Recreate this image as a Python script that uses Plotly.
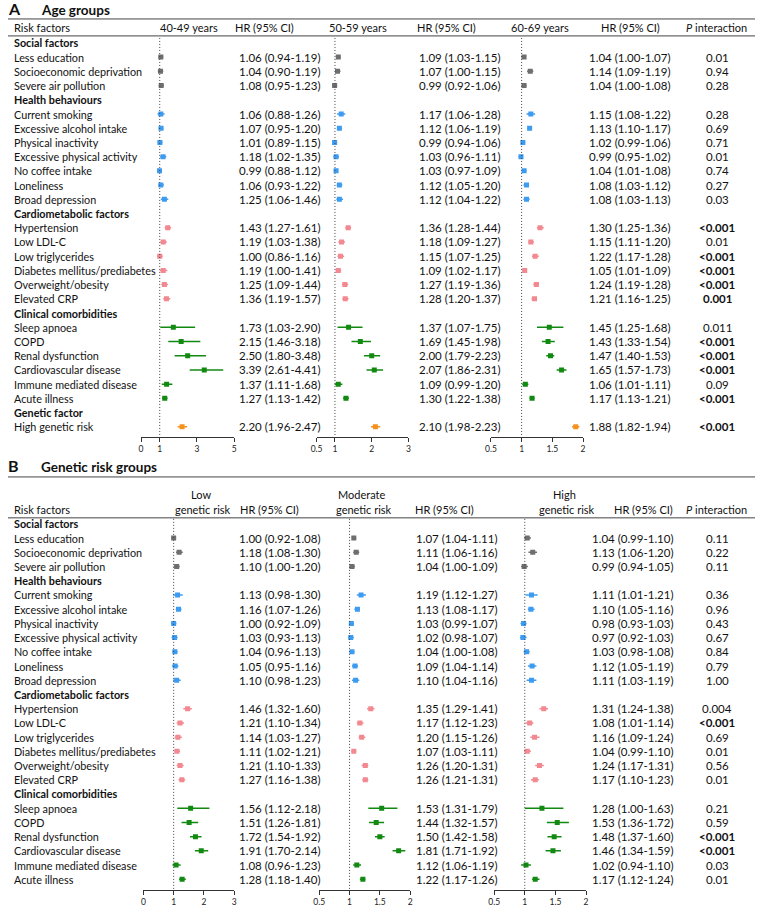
import plotly.graph_objects as go

OFF = 0
W, H = 760, 907
FONT = "Lato"

def px(x):
    return (x - OFF) / W

def py(y):
    return 1 - (y - OFF) / H

# ---------------- DATA ----------------
labels_A = ["Social factors", "Less education", "Socioeconomic deprivation", "Severe air pollution",
            "Health behaviours", "Current smoking", "Excessive alcohol intake", "Physical inactivity",
            "Excessive physical activity", "No coffee intake", "Loneliness", "Broad depression",
            "Cardiometabolic factors", "Hypertension", "Low LDL-C", "Low triglycerides",
            "Diabetes mellitus/prediabetes", "Overweight/obesity", "Elevated CRP",
            "Clinical comorbidities", "Sleep apnoea", "COPD", "Renal dysfunction",
            "Cardiovascular disease", "Immune mediated disease", "Acute illness",
            "Genetic factor", "High genetic risk"]
groups_A = ["H", "social", "social", "social",
            "H", "health", "health", "health", "health", "health", "health", "health",
            "H", "cardio", "cardio", "cardio", "cardio", "cardio", "cardio",
            "H", "clin", "clin", "clin", "clin", "clin", "clin",
            "H", "gen"]

# 40-49 years
a1_hr = [None, 1.06, 1.04, 1.08, None, 1.06, 1.07, 1.01, 1.18, 0.99, 1.06, 1.25, None, 1.43, 1.19, 1.00, 1.19, 1.25, 1.36, None, 1.73, 2.15, 2.50, 3.39, 1.37, 1.27, None, 2.20]
a1_lo = [None, 0.94, 0.90, 0.95, None, 0.88, 0.95, 0.89, 1.02, 0.88, 0.93, 1.06, None, 1.27, 1.03, 0.86, 1.00, 1.09, 1.19, None, 1.03, 1.46, 1.80, 2.61, 1.11, 1.13, None, 1.96]
a1_hi = [None, 1.19, 1.19, 1.23, None, 1.26, 1.20, 1.15, 1.35, 1.12, 1.22, 1.46, None, 1.61, 1.38, 1.16, 1.41, 1.44, 1.57, None, 2.90, 3.18, 3.48, 4.41, 1.68, 1.42, None, 2.47]
# 50-59 years
a2_hr = [None, 1.09, 1.07, 0.99, None, 1.17, 1.12, 0.99, 1.03, 1.03, 1.12, 1.12, None, 1.36, 1.18, 1.15, 1.09, 1.27, 1.28, None, 1.37, 1.69, 2.00, 2.07, 1.09, 1.30, None, 2.10]
a2_lo = [None, 1.03, 1.00, 0.92, None, 1.06, 1.06, 0.94, 0.96, 0.97, 1.05, 1.04, None, 1.28, 1.09, 1.07, 1.02, 1.19, 1.20, None, 1.07, 1.45, 1.79, 1.86, 0.99, 1.22, None, 1.98]
a2_hi = [None, 1.15, 1.15, 1.06, None, 1.28, 1.19, 1.06, 1.11, 1.09, 1.20, 1.22, None, 1.44, 1.27, 1.25, 1.17, 1.36, 1.37, None, 1.75, 1.98, 2.23, 2.31, 1.20, 1.38, None, 2.23]
# 60-69 years
a3_hr = [None, 1.04, 1.14, 1.04, None, 1.15, 1.13, 1.02, 0.99, 1.04, 1.08, 1.08, None, 1.30, 1.15, 1.22, 1.05, 1.24, 1.21, None, 1.45, 1.43, 1.47, 1.65, 1.06, 1.17, None, 1.88]
a3_lo = [None, 1.00, 1.09, 1.00, None, 1.08, 1.10, 0.99, 0.95, 1.01, 1.03, 1.03, None, 1.25, 1.11, 1.17, 1.01, 1.19, 1.16, None, 1.25, 1.33, 1.40, 1.57, 1.01, 1.13, None, 1.82]
a3_hi = [None, 1.07, 1.19, 1.08, None, 1.22, 1.17, 1.06, 1.02, 1.08, 1.12, 1.13, None, 1.36, 1.20, 1.28, 1.09, 1.28, 1.25, None, 1.68, 1.54, 1.53, 1.73, 1.11, 1.21, None, 1.94]
p_A = ["", "0.01", "0.94", "0.28", "", "0.28", "0.69", "0.71", "0.01", "0.74", "0.27", "0.03", "",
       "<0.001", "0.01", "<0.001", "<0.001", "<0.001", "0.001", "", "0.011", "<0.001", "<0.001",
       "<0.001", "0.09", "<0.001", "", "<0.001"]
p_A_bold = [False, False, False, False, False, False, False, False, False, False, False, False, False,
            True, False, True, True, True, True, False, False, True, True, True, False, True, False, True]

labels_B = labels_A[:26]
groups_B = groups_A[:26]
# Low genetic risk
b1_hr = [None, 1.00, 1.18, 1.10, None, 1.13, 1.16, 1.00, 1.03, 1.04, 1.05, 1.10, None, 1.46, 1.21, 1.14, 1.11, 1.21, 1.27, None, 1.56, 1.51, 1.72, 1.91, 1.08, 1.28]
b1_lo = [None, 0.92, 1.08, 1.00, None, 0.98, 1.07, 0.92, 0.93, 0.96, 0.95, 0.98, None, 1.32, 1.10, 1.03, 1.02, 1.10, 1.16, None, 1.12, 1.26, 1.54, 1.70, 0.96, 1.18]
b1_hi = [None, 1.08, 1.30, 1.20, None, 1.30, 1.26, 1.09, 1.13, 1.13, 1.16, 1.23, None, 1.60, 1.34, 1.27, 1.21, 1.33, 1.38, None, 2.18, 1.81, 1.92, 2.14, 1.23, 1.40]
# Moderate genetic risk
b2_hr = [None, 1.07, 1.11, 1.04, None, 1.19, 1.13, 1.03, 1.02, 1.04, 1.09, 1.10, None, 1.35, 1.17, 1.20, 1.07, 1.26, 1.26, None, 1.53, 1.44, 1.50, 1.81, 1.12, 1.22]
b2_lo = [None, 1.04, 1.06, 1.00, None, 1.12, 1.08, 0.99, 0.98, 1.00, 1.04, 1.04, None, 1.29, 1.12, 1.15, 1.03, 1.20, 1.21, None, 1.31, 1.32, 1.42, 1.71, 1.06, 1.17]
b2_hi = [None, 1.11, 1.16, 1.09, None, 1.27, 1.17, 1.07, 1.07, 1.08, 1.14, 1.16, None, 1.41, 1.23, 1.26, 1.11, 1.31, 1.31, None, 1.79, 1.57, 1.58, 1.92, 1.19, 1.26]
# High genetic risk
b3_hr = [None, 1.04, 1.13, 0.99, None, 1.11, 1.10, 0.98, 0.97, 1.03, 1.12, 1.11, None, 1.31, 1.08, 1.16, 1.04, 1.24, 1.17, None, 1.28, 1.53, 1.48, 1.46, 1.02, 1.17]
b3_lo = [None, 0.99, 1.06, 0.94, None, 1.01, 1.05, 0.93, 0.92, 0.98, 1.05, 1.03, None, 1.24, 1.01, 1.09, 0.99, 1.17, 1.10, None, 1.00, 1.36, 1.37, 1.34, 0.94, 1.12]
b3_hi = [None, 1.10, 1.20, 1.05, None, 1.21, 1.16, 1.03, 1.03, 1.08, 1.19, 1.19, None, 1.38, 1.14, 1.24, 1.10, 1.31, 1.23, None, 1.63, 1.72, 1.60, 1.59, 1.10, 1.24]
p_B = ["", "0.11", "0.22", "0.11", "", "0.36", "0.96", "0.43", "0.67", "0.84", "0.79", "1.00", "",
       "0.004", "<0.001", "0.69", "0.01", "0.56", "0.01", "", "0.21", "0.59", "<0.001", "<0.001", "0.03", "0.01"]
p_B_bold = [False] * 14 + [True] + [False] * 7 + [True, True, False, False]

ticks_A = [[0, 1, 3, 5], [0.5, 1, 2, 3], [0.5, 1, 1.5, 2]]
ranges_A = [[0, 5], [0.5, 3], [0.5, 2]]
ticks_B = [[0, 1, 2, 3], [0.5, 1, 1.5, 2], [0.5, 1, 1.5, 2]]
ranges_B = [[0, 3], [0.5, 2], [0.5, 2]]

COLORS = {"social": "#6e6e6e", "health": "#3d9cf0", "cardio": "#f28890", "clin": "#128a12", "gen": "#f5921e"}

# ---------------- LAYOUT GEOMETRY (window pixels) ----------------
A_dom = [(136.7, 231.0), (314.3, 407.3), (490.7, 584.0)]
B_dom = [(139.0, 231.0), (317.0, 409.0), (494.0, 587.0)]
TPAD = 2  # annotation inner padding
A_hr_x = [236, 418, 590]
B_hr_x = [236, 415, 593]
P_X = 720
ROW = 14.25
A_first, A_top, A_bot = 43.0, 36.0, 437.7
B_first, B_top, B_bot = 525.0, 519.0, 891.5
LAB = 10.8
NUM = 11.5

fig = go.Figure()
layout = dict(width=W, height=H, margin=dict(l=0, r=0, t=0, b=0),
              paper_bgcolor="white", plot_bgcolor="white", showlegend=False,
              font=dict(family=FONT, size=11, color="#111"))

def yrange(first, top, bot):
    return [(bot - first) / ROW, (top - first) / ROW]

annotations = []
shapes = []

def add_panel(labels, groups, cols, pvals, pbold, doms, ticks, ranges, hr_x, first, top, bot, yname, xnames):
    yr = yrange(first, top, bot)
    layout["yaxis" if yname == "y" else "yaxis" + yname[1:]] = dict(
        domain=[py(bot), py(top)], range=yr, visible=False, anchor=xnames[0], fixedrange=True)
    for k, (hr, lo, hi) in enumerate(cols):
        xn = xnames[k]
        key = "xaxis" if xn == "x" else "xaxis" + xn[1:]
        layout[key] = dict(domain=[px(doms[k][0]), px(doms[k][1])], range=ranges[k], anchor=yname,
                           showline=True, linecolor="#333", linewidth=1, ticks="outside", ticklen=4,
                           tickcolor="#333", tickwidth=1, tickvals=ticks[k],
                           ticktext=[("%g" % t) for t in ticks[k]],
                           tickfont=dict(size=8.5, family=FONT, color="#222"),
                           showgrid=False, zeroline=False, fixedrange=True)
        for grp in ["social", "health", "cardio", "clin", "gen"]:
            idx = [i for i, g in enumerate(groups) if g == grp and hr[i] is not None]
            if not idx:
                continue
            fig.add_trace(go.Scatter(
                x=[hr[i] for i in idx], y=idx, xaxis=xn, yaxis=yname, mode="markers",
                marker=dict(symbol="square", size=5, color=COLORS[grp], line=dict(width=0)),
                error_x=dict(type="data", symmetric=False,
                             array=[hi[i] - hr[i] for i in idx],
                             arrayminus=[hr[i] - lo[i] for i in idx],
                             width=0, thickness=1.5, color=COLORS[grp]),
                hoverinfo="skip"))
        shapes.append(dict(type="line", xref=xn, yref=yname, x0=1, x1=1, y0=-0.35, y1=yr[0],
                           line=dict(color="#444", width=1, dash="1px,2px")))
        for i in range(len(labels)):
            if hr[i] is None:
                continue
            annotations.append(dict(x=px(hr_x[k] - TPAD), y=i, xref="paper", yref=yname, xanchor="left",
                                    yanchor="middle", showarrow=False,
                                    text="%.2f (%.2f-%.2f)" % (hr[i], lo[i], hi[i]),
                                    font=dict(size=NUM, family=FONT, color="#111")))
    for i, lab in enumerate(labels):
        head = groups[i] == "H"
        annotations.append(dict(x=px(8 - TPAD), y=i, xref="paper", yref=yname, xanchor="left", yanchor="middle",
                                showarrow=False, text=("<b>%s</b>" % lab) if head else lab,
                                font=dict(size=LAB, family=FONT, color="#111")))
        if pvals[i]:
            t = pvals[i].replace("<", "&lt;")
            annotations.append(dict(x=px(P_X), y=i, xref="paper", yref=yname, xanchor="center",
                                    yanchor="middle", showarrow=False,
                                    text=("<b>%s</b>" % t) if pbold[i] else t,
                                    font=dict(size=NUM, family=FONT, color="#111")))

add_panel(labels_A, groups_A, [(a1_hr, a1_lo, a1_hi), (a2_hr, a2_lo, a2_hi), (a3_hr, a3_lo, a3_hi)],
          p_A, p_A_bold, A_dom, ticks_A, ranges_A, A_hr_x, A_first, A_top, A_bot, "y", ["x", "x2", "x3"])
add_panel(labels_B, groups_B, [(b1_hr, b1_lo, b1_hi), (b2_hr, b2_lo, b2_hi), (b3_hr, b3_lo, b3_hi)],
          p_B, p_B_bold, B_dom, ticks_B, ranges_B, B_hr_x, B_first, B_top, B_bot, "y2", ["x4", "x5", "x6"])

def ptext(x, y, text, size=LAB, anchor="left", bold=False):
    annotations.append(dict(x=px(x - (TPAD if anchor == "left" else 0)), y=py(y), xref="paper", yref="paper",
                            xanchor=anchor, yanchor="middle",
                            showarrow=False, text=("<b>%s</b>" % text) if bold else text,
                            font=dict(size=size, family=FONT, color="#111")))

def hline(y, x0=2, x1=758):
    shapes.append(dict(type="line", xref="paper", yref="paper", x0=px(x0), x1=px(x1), y0=py(y), y1=py(y),
                       line=dict(color="#444", width=1)))

# Panel A titles / headers
ptext(2, 9, "A", size=16, bold=True)
ptext(35, 10, "Age groups", size=13.5, bold=True)
hline(19)
hline(36)
ptext(8, 28, "Risk factors", size=11)
ptext(185, 28, "40-49 years", size=11, anchor="center")
ptext(262, 28, "HR (95% CI)", size=11, anchor="center")
ptext(356, 28, "50-59 years", size=11, anchor="center")
ptext(446, 28, "HR (95% CI)", size=11, anchor="center")
ptext(540, 28, "60-69 years", size=11, anchor="center")
ptext(632, 28, "HR (95% CI)", size=11, anchor="center")
ptext(719, 28, "<i>P</i> interaction", size=11, anchor="center")

# Panel B titles / headers
ptext(2, 467, "B", size=16, bold=True)
ptext(35, 468, "Genetic risk groups", size=13.5, bold=True)
hline(478)
hline(519)
ptext(8, 511, "Risk factors", size=11)
ptext(197, 496, "Low", size=11, anchor="center")
ptext(199, 511, "genetic risk", size=11, anchor="center")
ptext(267, 511, "HR (95% CI)", size=11, anchor="center")
ptext(360, 496, "Moderate", size=11, anchor="center")
ptext(362, 511, "genetic risk", size=11, anchor="center")
ptext(444, 511, "HR (95% CI)", size=11, anchor="center")
ptext(565, 496, "High", size=11, anchor="center")
ptext(568, 511, "genetic risk", size=11, anchor="center")
ptext(645, 511, "HR (95% CI)", size=11, anchor="center")
ptext(719, 511, "<i>P</i> interaction", size=11, anchor="center")

layout["annotations"] = annotations
layout["shapes"] = shapes
fig.update_layout(**layout)
# remove the browser's default 8px body margin so the figure fills the window exactly
fig.write_html("out.html", config={"displayModeBar": False},
               post_script="document.body.style.margin='0px';")
